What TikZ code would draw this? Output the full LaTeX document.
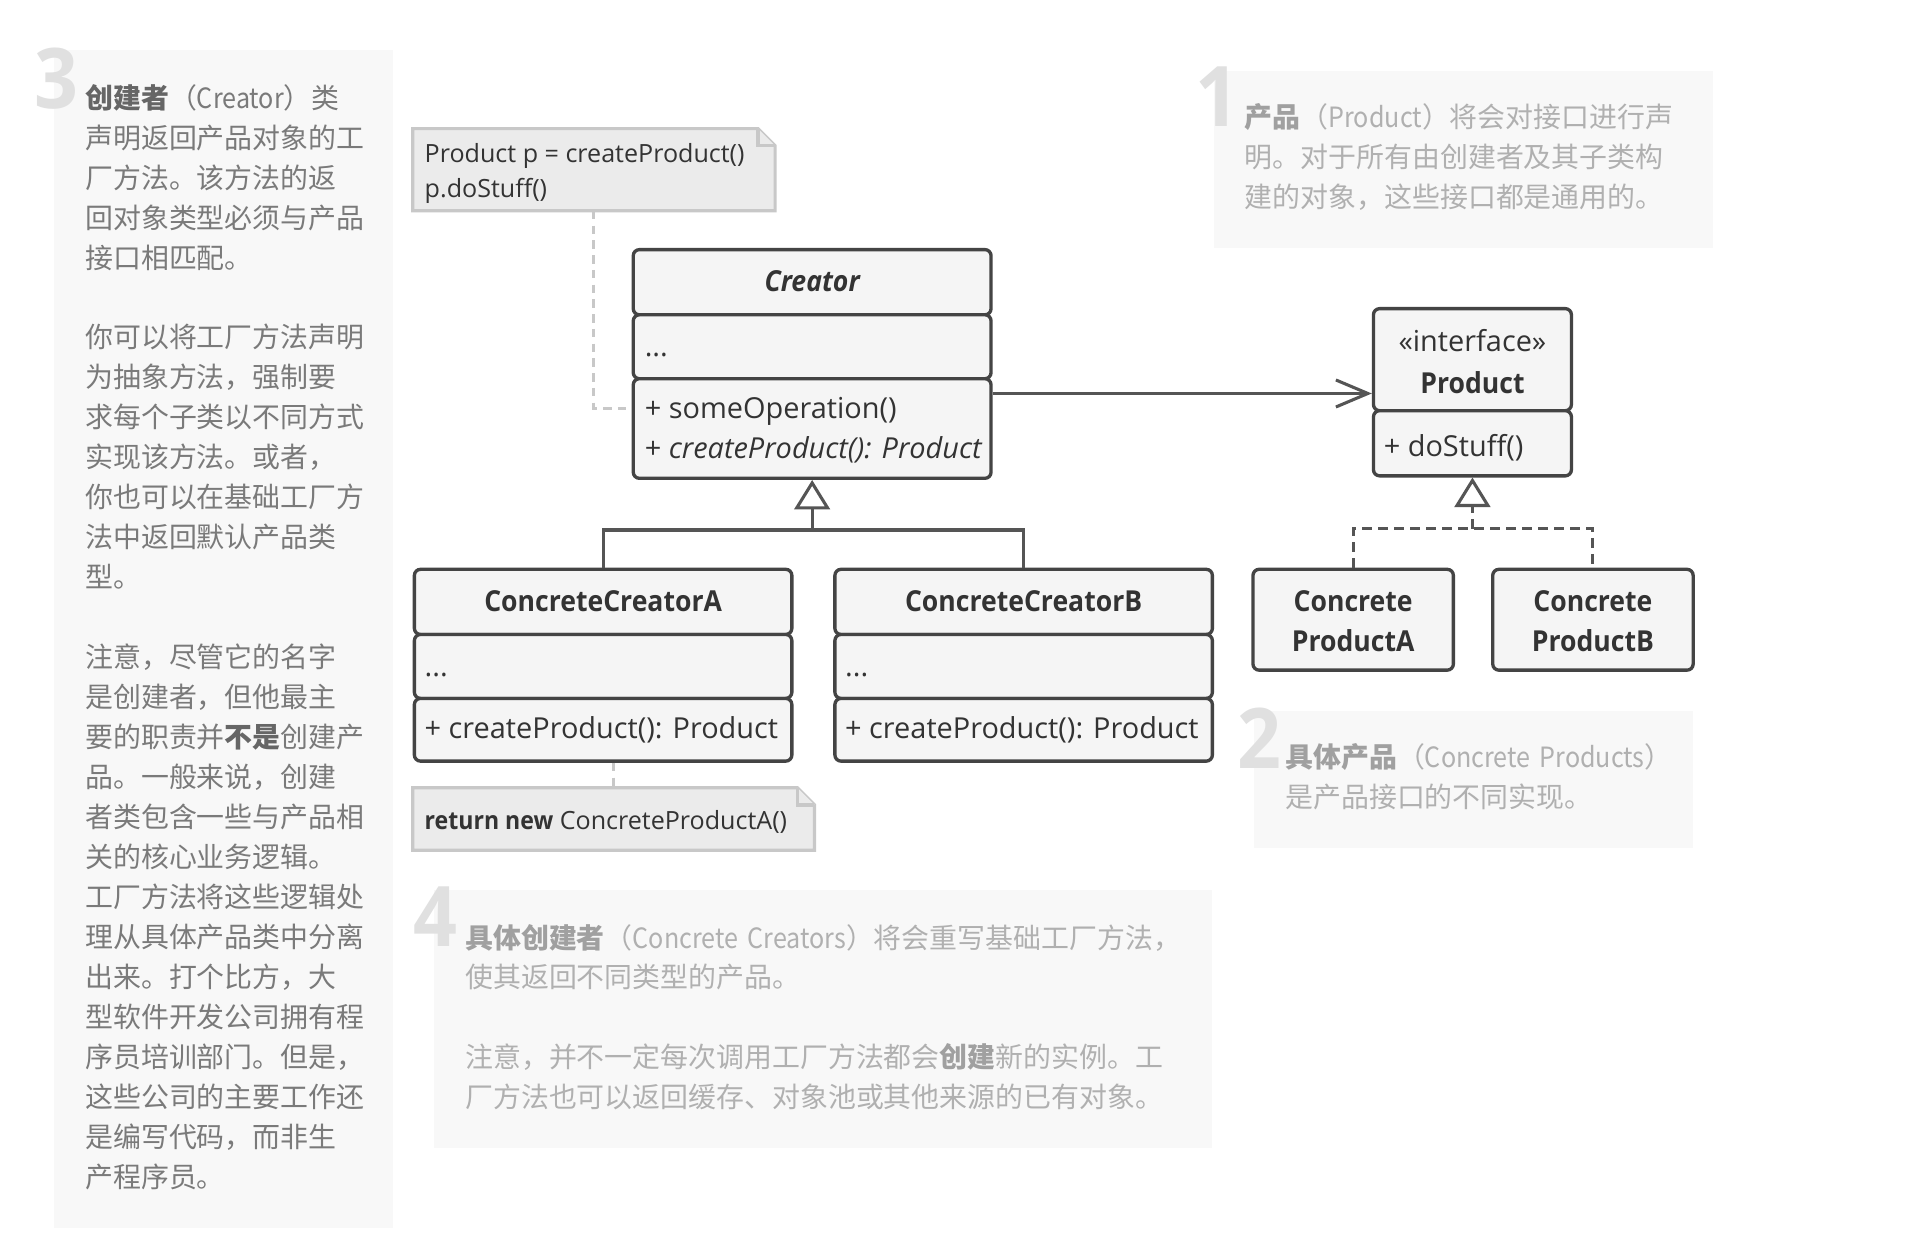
\documentclass[tikz,border=0pt]{standalone}
\usepackage{fontspec}
\setmainfont{Open Sans}[BoldFeatures={FakeStretch=0.92},BoldItalicFeatures={FakeStretch=0.92}]
\newfontfamily\cjk{Noto Sans CJK SC}
\newfontfamily\cjklat{Noto Sans CJK SC}[FakeStretch=0.9]
\usetikzlibrary{arrows.meta,fit}
\definecolor{panelbg}{HTML}{F8F8F8}
\definecolor{numgray}{HTML}{E0E0E0}
\definecolor{darktxt}{HTML}{7A7A7A}
\definecolor{darkbold}{HTML}{666666}
\definecolor{lighttxt}{HTML}{B0B0B0}
\definecolor{lightbold}{HTML}{A0A0A0}
\definecolor{notefill}{HTML}{EBEBEB}
\definecolor{noteline}{HTML}{C8C8C8}
\definecolor{umlfill}{HTML}{F5F5F5}
\definecolor{umlline}{HTML}{444444}
\definecolor{umltxt}{HTML}{333333}
\definecolor{conn}{HTML}{555555}
\newcommand\umlsize{\fontsize{11.75pt}{14pt}\selectfont}
\newcommand\notesize{\fontsize{10.2pt}{13pt}\selectfont}
\newcommand\cjksize{\cjk\fontsize{11.35pt}{16.25pt}\selectfont}
\newcommand\bdark[1]{{\bfseries\color{darkbold}#1}}
\newcommand\blight[1]{{\bfseries\color{lightbold}#1}}
\newcommand\lat[1]{{\cjklat#1}}
\begin{document}
\begin{tikzpicture}[x=0.5pt,y=-0.5pt,
  panel/.style={fill=panelbg, draw=none},
  bignum/.style={text=numgray, font=\fontsize{34pt}{34pt}\selectfont\bfseries, inner sep=0pt, anchor=base west},
  darkpara/.style={text=darktxt, font=\cjksize, align=left, text width=150pt, inner sep=0pt, anchor=base west},
  lightpara/.style={text=lighttxt, font=\cjksize, align=left, text width=360pt, inner sep=0pt, anchor=base west},
  umlbox/.style={draw=umlline, fill=umlfill, line width=1.35pt, rounded corners=2.5pt, inner sep=0pt},
  umltext/.style={text=umltxt, font=\umlsize, inner sep=0pt},
  member/.style={umltext, anchor=base west},
  notetext/.style={umltext, anchor=base west, font=\notesize},
  title/.style={umltext, anchor=base, font=\umlsize\bfseries},
  notenode/.style={inner sep=0pt, draw=none},
  notestyle/.style={draw=noteline, fill=notefill, line width=1.3pt, line join=miter},
  noteconn/.style={draw=noteline, line width=1.2pt, dash pattern=on 3.5pt off 2.5pt},
  assoc/.style={draw=conn, line width=1.25pt, -{Straight Barb[length=13pt,width=11pt,line width=1.25pt]}},
  gen/.style={draw=conn, line width=1.25pt},
  genhead/.style={-{Triangle[open,length=12pt,width=14.5pt,line width=1.25pt,fill=white]}},
  real/.style={draw=conn, line width=1.25pt, dash pattern=on 4pt off 2.5pt}
]
\useasboundingbox (0,0) rectangle (1568,1018);
\fill[white] (0,0) rectangle (1568,1018);

% ---------- explanation panels ----------
\fill[panel] (44,41) rectangle (320,999);
\fill[panel] (987,58) rectangle (1393,202);
\fill[panel] (1020,578) rectangle (1377,690);
\fill[panel] (353,724) rectangle (986,934);

\node[bignum] (num3) at (28,88) {3};
\node[bignum] (num1) at (972,103) {1};
\node[bignum] (num2) at (1006,625) {2};
\node[bignum] (num4) at (336,770) {4};

\node[darkpara] (para3) at (69,88) {%
\bdark{创建者}（\lat{Creator}）类\\
声明返回产品对象的工\\
厂方法。该方法的返\\
回对象类型必须与产品\\
接口相匹配。\\[16.25pt]
你可以将工厂方法声明\\
为抽象方法，强制要\\
求每个子类以不同方式\\
实现该方法。或者，\\
你也可以在基础工厂方\\
法中返回默认产品类\\
型。\\[16.25pt]
注意，尽管它的名字\\
是创建者，但他最主\\
要的职责并\bdark{不是}创建产\\
品。一般来说，创建\\
者类包含一些与产品相\\
关的核心业务逻辑。\\
工厂方法将这些逻辑处\\
理从具体产品类中分离\\
出来。打个比方，大\\
型软件开发公司拥有程\\
序员培训部门。但是，\\
这些公司的主要工作还\\
是编写代码，而非生\\
产程序员。};

\node[lightpara] (para1) at (1012,104) {%
\blight{产品}（\lat{Product}）将会对接口进行声\\
明。对于所有由创建者及其子类构\\
建的对象，这些接口都是通用的。};

\node[lightpara] (para2) at (1045,624) {%
\blight{具体产品}（\lat{Concrete Products}）\\
是产品接口的不同实现。};

\node[lightpara] (para4) at (378,771) {%
\blight{具体创建者}（\lat{Concrete Creators}）将会重写基础工厂方法，\\
使其返回不同类型的产品。\\[16.25pt]
注意，并不一定每次调用工厂方法都会\blight{创建}新的实例。工\\
厂方法也可以返回缓存、对象池或其他来源的已有对象。};

% ---------- notes ----------
\node[notenode, fit={(336,105)(630,171)}] (n1) {};
\draw[notestyle] (n1.south west) -- (n1.north west) -- ([xshift=-7pt]n1.north east) -- ([yshift=-7pt]n1.north east) -- (n1.south east) -- cycle;
\draw[notestyle] ([xshift=-7pt]n1.north east) -- ([xshift=-7pt,yshift=-7pt]n1.north east) -- ([yshift=-7pt]n1.north east);
\node[notetext] (n1a) at (345,132) {Product p = createProduct()};
\node[notetext] (n1b) at (345,161) {p.doStuff()};

\node[notenode, fit={(336,641)(662,691)}] (n2) {};
\draw[notestyle] (n2.south west) -- (n2.north west) -- ([xshift=-7pt]n2.north east) -- ([yshift=-7pt]n2.north east) -- (n2.south east) -- cycle;
\draw[notestyle] ([xshift=-7pt]n2.north east) -- ([xshift=-7pt,yshift=-7pt]n2.north east) -- ([yshift=-7pt]n2.north east);
\node[notetext] (n2a) at (345,675) {\textbf{return new} ConcreteProductA()};

% ---------- Creator ----------
\node[umlbox, fit={(515,203)(806,256)}] (crH) {};
\node[umlbox, fit={(515,256)(806,308)}] (crF) {};
\node[umlbox, fit={(515,308)(806,389)}] (crM) {};
\node[title, font=\umlsize\bfseries\itshape] (crT) at (660.5,237) {Creator};
\node[member] (crF1) at (524,290) {...};
\node[member] (crM1) at (524,340) {+ someOperation()};
\node[member] (crM2) at (524,373) {+ \textit{createProduct(): Product}};

% ---------- ConcreteCreatorA ----------
\node[umlbox, fit={(337,463)(644,516)}] (caH) {};
\node[umlbox, fit={(337,516)(644,568)}] (caF) {};
\node[umlbox, fit={(337,568)(644,619)}] (caM) {};
\node[title] (caT) at (490.5,497) {ConcreteCreatorA};
\node[member] (caF1) at (345,550) {...};
\node[member] (caM1) at (345,601) {+ createProduct(): Product};

% ---------- ConcreteCreatorB ----------
\node[umlbox, fit={(679,463)(986,516)}] (cbH) {};
\node[umlbox, fit={(679,516)(986,568)}] (cbF) {};
\node[umlbox, fit={(679,568)(986,619)}] (cbM) {};
\node[title] (cbT) at (832.5,497) {ConcreteCreatorB};
\node[member] (cbF1) at (687,550) {...};
\node[member] (cbM1) at (687,601) {+ createProduct(): Product};

% ---------- Product ----------
\node[umlbox, fit={(1117,251)(1278,334)}] (prH) {};
\node[umlbox, fit={(1117,334)(1278,387)}] (prM) {};
\node[umltext, anchor=base] (prS) at (1197.5,286) {«interface»};
\node[title] (prT) at (1197.5,320) {Product};
\node[member] (prM1) at (1125,371) {+ doStuff()};

% ---------- Concrete products ----------
\node[umlbox, fit={(1019,463)(1182,545)}] (paB) {};
\node[title] (paT1) at (1100.5,497.5) {Concrete};
\node[title] (paT2) at (1100.5,530) {ProductA};
\node[umlbox, fit={(1214,463)(1377,545)}] (pbB) {};
\node[title] (pbT1) at (1295.5,497.5) {Concrete};
\node[title] (pbT2) at (1295.5,530) {ProductB};

% ---------- connectors ----------
\coordinate (arrY) at (0,320);
\draw[assoc] (crM.east |- arrY) -- (prH.west |- arrY);

\coordinate (jC) at (660.5,431);
\draw[gen] (caH.north) |- (jC) -| (cbH.north);
\draw[gen, genhead] (jC) -- (crM.south);

\coordinate (jP) at (1197.5,430);
\draw[real] (paB.north) |- (jP) -| (pbB.north);
\draw[real, genhead] (jP) -- (prM.south);

\coordinate (n1c) at (483,332);
\draw[noteconn] (n1.south -| n1c) |- (crM.west |- n1c);
\coordinate (n2c) at (499,630);
\draw[noteconn] (caM.south -| n2c) -- (n2.north -| n2c);
\end{tikzpicture}
\end{document}
